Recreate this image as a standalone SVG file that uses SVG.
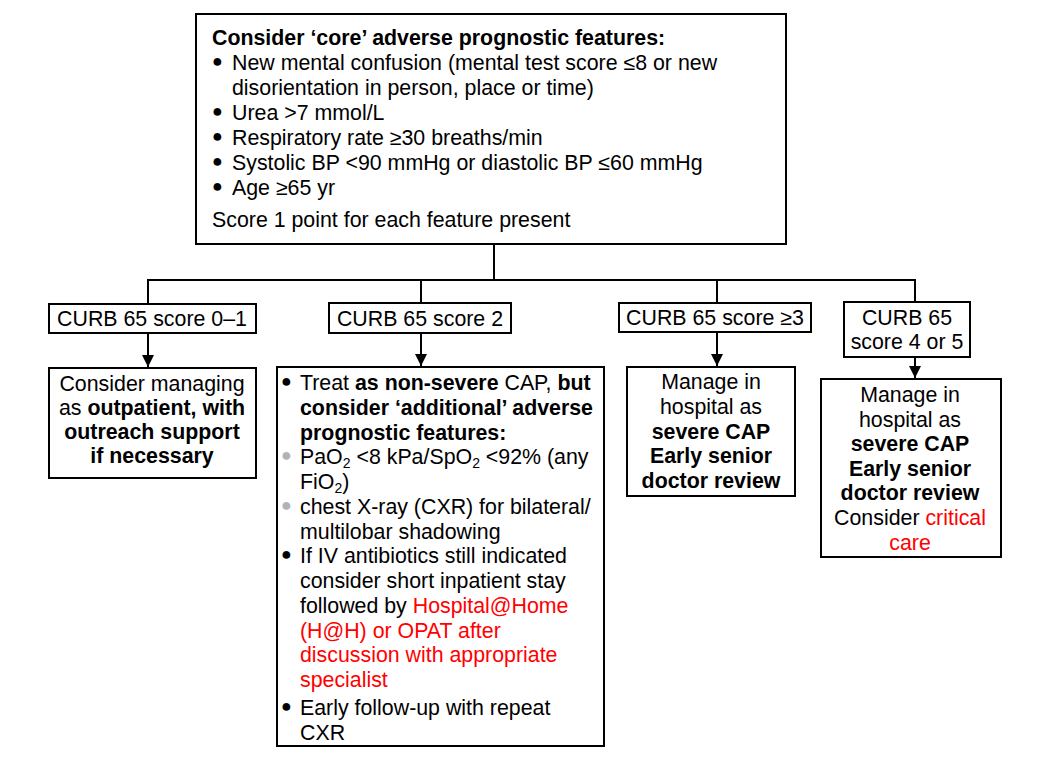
<svg xmlns="http://www.w3.org/2000/svg" width="1041" height="763" viewBox="0 0 1041 763">
<style>
text{font-family:"Liberation Sans",Arial,sans-serif;font-size:21.35px;fill:#000}
.b{font-weight:bold}
.r{fill:#ff0000}
.g{fill:#b3b3b3}
.c{text-anchor:middle}
.bu{font-size:18px}
.box{fill:#fff;stroke:#000;stroke-width:2}
.ln{fill:none;stroke:#000;stroke-width:2}
</style>
<defs>
<marker id="ah" markerWidth="14" markerHeight="12" refX="12" refY="6" orient="auto" markerUnits="userSpaceOnUse">
<path d="M0,0 L12,6 L0,12 Z" fill="#000"/>
</marker>
</defs>
<rect width="1041" height="763" fill="#fff"/>
<g id="connectors">
<path class="ln" d="M494,244 V280 M147,280 H916 M148,280 V304 M421,280 V303 M717,280 V303 M915,280 V303"/>
<path class="ln" d="M148,333 V367" marker-end="url(#ah)"/>
<path class="ln" d="M421,333 V366" marker-end="url(#ah)"/>
<path class="ln" d="M717,332 V366" marker-end="url(#ah)"/>
<path class="ln" d="M915,357 V378" marker-end="url(#ah)"/>
</g>
<g id="core">
<rect class="box" x="196" y="14" width="590" height="230"/>
<text x="212" y="45" class="b">Consider ‘core’ adverse prognostic features:</text>
<text x="212" y="70"><tspan class="bu" dy="-3">●</tspan><tspan x="232" dy="3">New mental confusion (mental test score ≤8 or new</tspan></text>
<text x="232" y="95">disorientation in person, place or time)</text>
<text x="212" y="120"><tspan class="bu" dy="-3">●</tspan><tspan x="232" dy="3">Urea &gt;7 mmol/L</tspan></text>
<text x="212" y="145"><tspan class="bu" dy="-3">●</tspan><tspan x="232" dy="3">Respiratory rate ≥30 breaths/min</tspan></text>
<text x="212" y="170"><tspan class="bu" dy="-3">●</tspan><tspan x="232" dy="3">Systolic BP &lt;90 mmHg or diastolic BP ≤60 mmHg</tspan></text>
<text x="212" y="195"><tspan class="bu" dy="-3">●</tspan><tspan x="232" dy="3">Age ≥65 yr</tspan></text>
<text x="212" y="227">Score 1 point for each feature present</text>
</g>
<g id="score01">
<rect class="box" x="49" y="304" width="207" height="29"/>
<text x="152" y="326" class="c">CURB 65 score 0–1</text>
</g>
<g id="score2">
<rect class="box" x="329" y="303" width="182" height="30"/>
<text x="420" y="326" class="c">CURB 65 score 2</text>
</g>
<g id="score3">
<rect class="box" x="619" y="303" width="192" height="29"/>
<text x="715" y="325" class="c">CURB 65 score ≥3</text>
</g>
<g id="score45">
<rect class="box" x="844" y="302" width="126" height="55"/>
<text x="907" y="325" class="c">CURB 65</text>
<text x="907" y="349" class="c">score 4 or 5</text>
</g>
<g id="outpatient">
<rect class="box" x="49" y="368" width="207" height="110"/>
<text x="152" y="391" class="c">Consider managing</text>
<text x="152" y="415" class="c">as <tspan class="b">outpatient, with</tspan></text>
<text x="152" y="439" class="c b">outreach support</text>
<text x="152" y="463" class="c b">if necessary</text>
</g>
<g id="nonsevere">
<rect class="box" x="277" y="367" width="327" height="379"/>
<text x="281" y="390"><tspan class="bu" dy="-3">●</tspan><tspan x="300" dy="3">Treat </tspan><tspan class="b">as non-severe</tspan> CAP, <tspan class="b">but</tspan></text>
<text x="300" y="415" class="b">consider ‘additional’ adverse</text>
<text x="300" y="440" class="b">prognostic features:</text>
<text x="281" y="464"><tspan class="bu g" dy="-3">●</tspan><tspan x="300" dy="3">PaO</tspan><tspan font-size="14" dy="4">2</tspan><tspan dy="-4"> &lt;8 kPa/SpO</tspan><tspan font-size="14" dy="4">2</tspan><tspan dy="-4"> &lt;92% (any</tspan></text>
<text x="300" y="489">FiO<tspan font-size="14" dy="4">2</tspan><tspan dy="-4">)</tspan></text>
<text x="281" y="514"><tspan class="bu g" dy="-3">●</tspan><tspan x="300" dy="3">chest X-ray (CXR) for bilateral/</tspan></text>
<text x="300" y="539">multilobar shadowing</text>
<text x="281" y="563"><tspan class="bu" dy="-3">●</tspan><tspan x="300" dy="3">If IV antibiotics still indicated</tspan></text>
<text x="300" y="588">consider short inpatient stay</text>
<text x="300" y="613">followed by <tspan class="r">Hospital@Home</tspan></text>
<text x="300" y="638" class="r">(H@H) or OPAT after</text>
<text x="300" y="662" class="r">discussion with appropriate</text>
<text x="300" y="687" class="r">specialist</text>
<text x="281" y="715"><tspan class="bu" dy="-3">●</tspan><tspan x="300" dy="3">Early follow-up with repeat</tspan></text>
<text x="300" y="740">CXR</text>
</g>
<g id="severe3">
<rect class="box" x="627" y="367" width="168" height="129"/>
<text x="711" y="389" class="c">Manage in</text>
<text x="711" y="414" class="c">hospital as</text>
<text x="711" y="439" class="c b">severe CAP</text>
<text x="711" y="463" class="c b">Early senior</text>
<text x="711" y="488" class="c b">doctor review</text>
</g>
<g id="severe45">
<rect class="box" x="821" y="379" width="180" height="178"/>
<text x="910" y="402" class="c">Manage in</text>
<text x="910" y="427" class="c">hospital as</text>
<text x="910" y="451" class="c b">severe CAP</text>
<text x="910" y="476" class="c b">Early senior</text>
<text x="910" y="500" class="c b">doctor review</text>
<text x="910" y="525" class="c">Consider <tspan class="r">critical</tspan></text>
<text x="910" y="550" class="c r">care</text>
</g>
</svg>
